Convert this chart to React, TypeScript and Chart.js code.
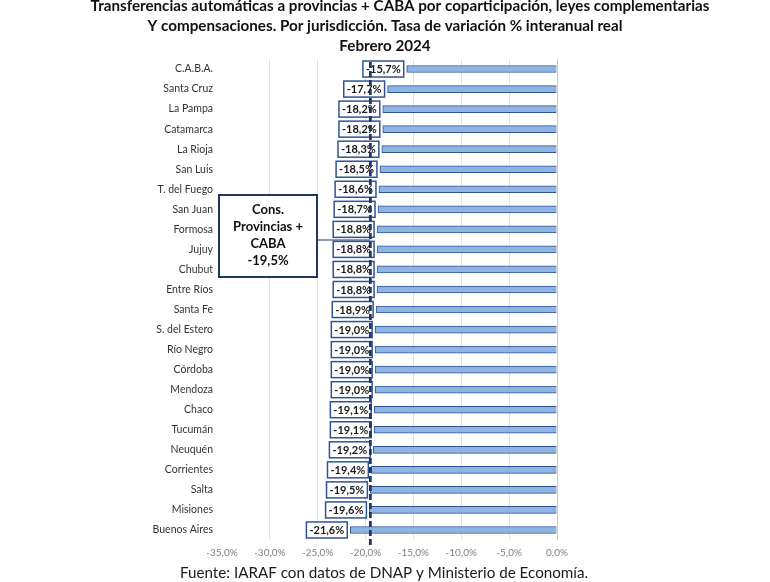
import React, { useEffect, useRef } from 'react';
import { Chart, registerables } from 'chart.js';

Chart.register(...registerables);

const categories = [
  'C.A.B.A.', 'Santa Cruz', 'La Pampa', 'Catamarca', 'La Rioja', 'San Luis', 'T. del Fuego',
  'San Juan', 'Formosa', 'Jujuy', 'Chubut', 'Entre Ríos', 'Santa Fe', 'S. del Estero',
  'Río Negro', 'Córdoba', 'Mendoza', 'Chaco', 'Tucumán', 'Neuquén', 'Corrientes', 'Salta',
  'Misiones', 'Buenos Aires',
];
const values = [
  -15.7, -17.7, -18.2, -18.2, -18.3, -18.5, -18.6, -18.7, -18.8, -18.8, -18.8, -18.8,
  -18.9, -19.0, -19.0, -19.0, -19.0, -19.1, -19.1, -19.2, -19.4, -19.5, -19.6, -21.6,
];
const totalValue = -19.5;
const totalLabel = ['Cons.', 'Provincias +', 'CABA', '-19,5%'];
const titleLines = [
  'Transferencias automáticas a provincias + CABA por coparticipación, leyes complementarias',
  'Y compensaciones. Por jurisdicción. Tasa de variación % interanual real',
  'Febrero 2024',
];
const footerText = 'Fuente: IARAF con datos de DNAP y Ministerio de Economía.';
const xMin = -35;
const xMax = 0;
const xStep = 5;

const FONT = 'Lato, "Open Sans", sans-serif';
const NAVY = '#1f3864';
const BORDER = '#2f5496';

const fmt = (v: number) => v.toFixed(1).replace('.', ',') + '%';

const decorPlugin = {
  id: 'decor',
  afterDatasetsDraw(chart: any) {
    const { ctx, chartArea } = chart;
    const xs = chart.scales.x;
    const meta = chart.getDatasetMeta(0);
    ctx.save();
    // data labels
    ctx.font = `bold 11px ${FONT}`;
    ctx.textAlign = 'center';
    ctx.textBaseline = 'middle';
    meta.data.forEach((el: any, i: number) => {
      const txt = fmt(values[i]);
      const w = ctx.measureText(txt).width + 6;
      const h = 16;
      const right = el.x - 3;
      const left = right - w;
      const top = el.y - h / 2;
      ctx.fillStyle = '#ffffff';
      ctx.fillRect(left, top, w, h);
      ctx.lineWidth = 1.5;
      ctx.strokeStyle = BORDER;
      ctx.strokeRect(left, top, w, h);
      ctx.fillStyle = '#1a1a1a';
      ctx.fillText(txt, left + w / 2, el.y + 0.5);
    });
    // dashed total line
    const tx = xs.getPixelForValue(totalValue);
    ctx.beginPath();
    ctx.setLineDash([6, 3]);
    ctx.lineWidth = 2.8;
    ctx.strokeStyle = NAVY;
    ctx.moveTo(tx, chartArea.top + 3);
    ctx.lineTo(tx, chartArea.bottom + 5);
    ctx.stroke();
    ctx.setLineDash([]);
    // annotation box
    const bx = 219, by = 195, bw = 98, bh = 82;
    ctx.beginPath();
    ctx.lineWidth = 1.2;
    ctx.strokeStyle = NAVY;
    ctx.moveTo(bx + bw, 240);
    ctx.lineTo(tx, 240);
    ctx.stroke();
    ctx.fillStyle = '#ffffff';
    ctx.fillRect(bx, by, bw, bh);
    ctx.lineWidth = 2;
    ctx.strokeStyle = NAVY;
    ctx.strokeRect(bx, by, bw, bh);
    ctx.fillStyle = '#111111';
    ctx.font = `bold 13px ${FONT}`;
    totalLabel.forEach((line, i) => {
      ctx.fillText(line, bx + bw / 2, by + 15 + i * 17);
    });
    // title
    ctx.font = `bold 15.2px ${FONT}`;
    ctx.fillStyle = '#111111';
    const centers = [400, 385, 385];
    titleLines.forEach((line, i) => {
      ctx.fillText(line, centers[i], 6 + i * 20);
    });
    // footer
    ctx.font = `15.2px ${FONT}`;
    ctx.fillStyle = '#1a1a1a';
    ctx.fillText(footerText, 384, 573);
    ctx.restore();
  },
};

export default function App() {
  const ref = useRef<HTMLCanvasElement | null>(null);
  useEffect(() => {
    if (!ref.current) return;
    const chart = new Chart(ref.current, {
      type: 'bar',
      data: {
        labels: categories,
        datasets: [
          {
            data: values,
            backgroundColor: '#8db4e2',
            borderColor: BORDER,
            borderWidth: 1,
            barThickness: 7,
          },
        ],
      },
      options: {
        indexAxis: 'y',
        animation: false,
        responsive: false,
        layout: { padding: { top: 59, bottom: 18, left: 0, right: 213 } },
        plugins: { legend: { display: false }, tooltip: { enabled: false }, title: { display: false } },
        scales: {
          x: {
            min: xMin,
            max: xMax,
            afterFit: (s: any) => { s.height = 24; },
            ticks: {
              stepSize: xStep,
              padding: 7,
              color: '#7f7f7f',
              font: { family: FONT, size: 10 },
              callback: (v: any) => fmt(Number(v)),
            },
            grid: {
              drawTicks: false,
              color: (c: any) => (c.tick && c.tick.value === xMin ? 'rgba(0,0,0,0)' : c.tick && c.tick.value === 0 ? '#c8c8c8' : '#d9e2f1'),
            },
            border: { display: false },
          },
          y: {
            afterFit: (s: any) => { s.width = 222; },
            ticks: {
              padding: 9,
              color: '#333333',
              font: { family: FONT, size: 10.5 },
              autoSkip: false,
            },
            grid: { display: false, drawTicks: false },
            border: { display: false },
          },
        },
      },
      plugins: [decorPlugin],
    });
    return () => chart.destroy();
  }, []);
  return (
    <div style={{ position: 'fixed', left: 0, top: 0, width: 770, height: 582, background: '#fff' }}>
      <canvas ref={ref} width={770} height={582} style={{ width: 770, height: 582 }} />
    </div>
  );
}
